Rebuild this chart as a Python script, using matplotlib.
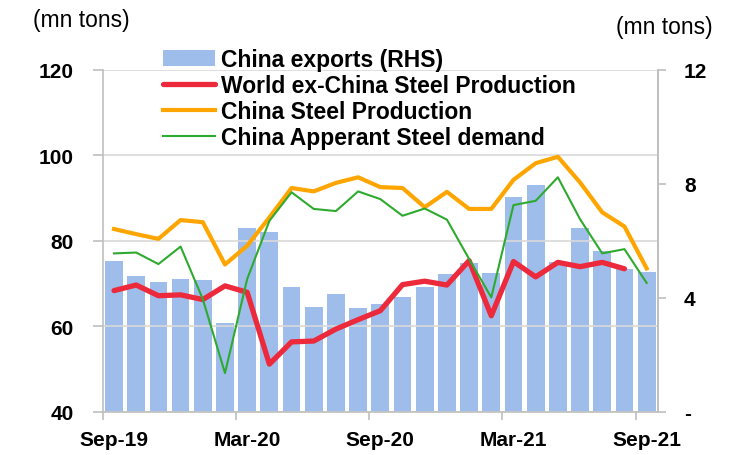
import numpy as np
import matplotlib.pyplot as plt
from matplotlib.ticker import FixedLocator, FuncFormatter

plt.rcParams['font.family'] = ['Liberation Sans', 'DejaVu Sans']

# monthly data, Sep-19 .. Sep-21
months = ['Sep-19', 'Oct-19', 'Nov-19', 'Dec-19', 'Jan-20', 'Feb-20', 'Mar-20', 'Apr-20',
          'May-20', 'Jun-20', 'Jul-20', 'Aug-20', 'Sep-20', 'Oct-20', 'Nov-20', 'Dec-20',
          'Jan-21', 'Feb-21', 'Mar-21', 'Apr-21', 'May-21', 'Jun-21', 'Jul-21', 'Aug-21', 'Sep-21']

china_exports = [5.31, 4.76, 4.55, 4.67, 4.62, 3.13, 6.47, 6.32, 4.39, 3.67, 4.15, 3.64, 3.80,
                 4.02, 4.39, 4.83, 5.23, 4.89, 7.54, 7.96, 5.26, 6.46, 5.65, 5.02, 4.90]
world_ex_china = [68.4, 69.7, 67.2, 67.4, 66.3, 69.5, 68.0, 51.2, 56.4, 56.6, 59.4, 61.6, 63.7,
                  69.8, 70.6, 69.7, 75.4, 62.5, 75.2, 71.6, 75.0, 74.0, 75.0, 73.5]
china_prod = [82.8, 81.6, 80.5, 84.9, 84.4, 74.5, 78.9, 85.5, 92.4, 91.6, 93.6, 94.9, 92.6,
              92.4, 87.9, 91.5, 87.5, 87.5, 94.3, 98.2, 99.7, 93.7, 86.7, 83.4, 73.6]
china_demand = [77.1, 77.3, 74.6, 78.7, 66.4, 49.1, 71.1, 84.7, 91.4, 87.5, 87.0, 91.6, 89.8,
                85.9, 87.6, 85.0, 75.8, 66.8, 88.4, 89.4, 94.9, 85.1, 77.1, 78.1, 70.2]

x = np.arange(len(months))
grey = '#BFBFBF'

fig = plt.figure(figsize=(7.3, 4.56), dpi=100)
ax = fig.add_axes([0.141, 0.0943, 0.76, 0.75])
ax2 = ax.twinx()

# bars on the right axis, lines on the left axis drawn above
bars = ax2.bar(x, china_exports, width=0.8, color='#9EBDEB', label='China exports (RHS)')
ax.set_zorder(ax2.get_zorder() + 1)
ax.patch.set_visible(False)

l1, = ax.plot(x[:len(world_ex_china)], world_ex_china, color='#EC2A3C', lw=3.8,
              solid_capstyle='round', label='World ex-China Steel Production')
l2, = ax.plot(x, china_prod, color='#FFA500', lw=3.0, label='China Steel Production')
l3, = ax.plot(x, china_demand, color='#2EAA2E', lw=1.5, label='China Apperant Steel demand')

ax.set_xlim(-0.5, len(months) - 0.5)
ax.set_ylim(40, 120)
ax2.set_ylim(0, 12)

ax.set_yticks([40, 60, 80, 100, 120])
ax.grid(axis='y', color='#D9D9D9', lw=1.2)
ax2.set_yticks([0, 4, 8, 12])
ax2.yaxis.set_major_formatter(FuncFormatter(lambda v, p: '-' if v == 0 else '%d' % v))

# tick marks between categories, labels at category centres
ax.xaxis.set_major_locator(FixedLocator([-0.5, 5.5, 11.5, 17.5, 23.5]))
ax.xaxis.set_major_formatter(FuncFormatter(lambda v, p: ''))
ax.xaxis.set_minor_locator(FixedLocator([0, 6, 12, 18, 24]))
ax.xaxis.set_minor_formatter(FuncFormatter(lambda v, p: months[int(round(v))]))
ax.tick_params(axis='x', which='major', length=6, color=grey, width=1.2)
ax.tick_params(axis='x', which='minor', length=0, pad=13, labelsize=15)
for lab in ax.get_xticklabels(minor=True):
    lab.set_fontweight('bold')

ax.tick_params(axis='y', length=7, color=grey, width=1.2, pad=14, labelsize=15)
ax2.tick_params(axis='y', length=6, color=grey, width=1.2, pad=13, labelsize=15)
for lab in ax.get_yticklabels() + ax2.get_yticklabels():
    lab.set_fontweight('bold')

for a in [ax, ax2]:
    a.spines['top'].set_visible(False)
    for s in ['left', 'right', 'bottom']:
        a.spines[s].set_color(grey)
        a.spines[s].set_linewidth(1.2)
ax2.spines['left'].set_visible(False)
ax2.spines['bottom'].set_visible(False)

fig.text(0.045, 0.955, '(mn tons)', fontsize=16.5, va='center', ha='left')
fig.text(0.976, 0.94, '(mn tons)', fontsize=16.5, va='center', ha='right')

leg = ax.legend([bars, l1, l2, l3],
                ['China exports (RHS)', 'World ex-China Steel Production',
                 'China Steel Production', 'China Apperant Steel demand'],
                loc='upper left', bbox_to_anchor=(0.223, 0.893), bbox_transform=fig.transFigure,
                frameon=False, prop={'weight': 'bold', 'size': 16.5}, handlelength=2.27,
                handletextpad=0.26, labelspacing=0.14, borderpad=0, borderaxespad=0)

fig.savefig('out.png', dpi=100)
